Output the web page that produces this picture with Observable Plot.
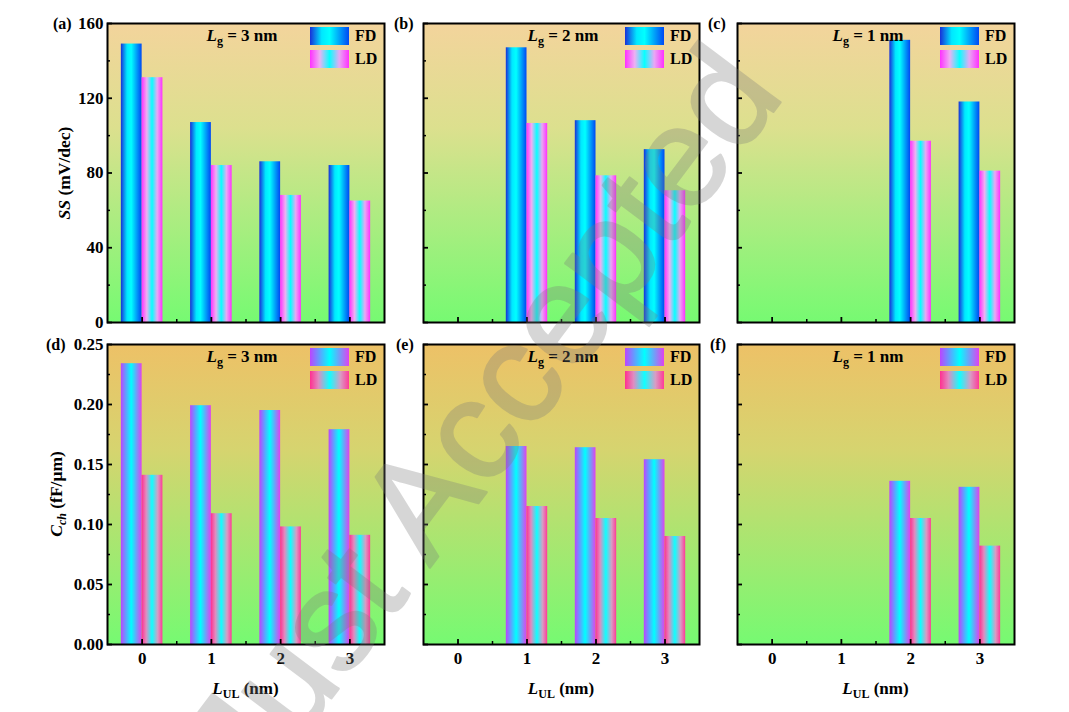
<!DOCTYPE html>
<html>
<head>
<meta charset="utf-8">
<script src="https://cdn.jsdelivr.net/npm/d3@7"></script>
<script src="https://cdn.jsdelivr.net/npm/@observablehq/plot@0.6"></script>
<style>
  html, body { margin: 0; padding: 0; background: #fff; }
  body { width: 1069px; height: 712px; overflow: hidden; position: relative;
         font-family: "Liberation Serif", "Times New Roman", serif; font-weight: bold; color: #000; }
  .abs { position: absolute; white-space: nowrap; line-height: 1; }
  .c { transform: translate(-50%, -50%); }
  .lbl { font-size: 16px; transform: translateY(-50%); }
  .lg { font-size: 17px; }
  .lg sub, .xt sub { font-size: 12px; vertical-align: -4px; line-height: 0; }
  .yt { font-size: 17.5px; transform: translate(-50%, -50%) rotate(-90deg); }
  .yt sub { font-size: 12px; vertical-align: -4px; line-height: 0; }
  .xt { font-size: 17px; }
  .sw { position: absolute; width: 39px; height: 18px; }
  .lt { font-size: 16px; transform: translateY(-50%); }
  svg.plot { position: absolute; }
  #wm { position: absolute; left: 0; top: 0; pointer-events: none; }
</style>
</head>
<body>
<svg id="defs" width="0" height="0" style="position:absolute;left:0;top:0"><defs></defs></svg>
<script>
// ---------------- data ----------------
const L_UL = [0, 1, 2, 3];
const xTickLabels = ["0", "1", "2", "3"];
const xMinorTicks = [0.5, 1.5, 2.5];

const ssTicks = [0, 40, 80, 120, 160];
const ssTickLabels = ["0", "40", "80", "120", "160"];
const ssMinorTicks = [20, 60, 100, 140];

const cchTicks = [0, 0.05, 0.10, 0.15, 0.20, 0.25];
const cchTickLabels = ["0.00", "0.05", "0.10", "0.15", "0.20", "0.25"];
const cchMinorTicks = [0.025, 0.075, 0.125, 0.175, 0.225];

// SS (mV/dec)
const ssFD_Lg3 = [149, 107, 86, 84];
const ssLD_Lg3 = [131, 84, 68, 65];
const ssFD_Lg2 = [null, 147, 108, 92.5];
const ssLD_Lg2 = [null, 106.5, 78.5, 70.5];
const ssFD_Lg1 = [null, null, 151, 118];
const ssLD_Lg1 = [null, null, 97, 81];

// Cch (fF/um)
const cchFD_Lg3 = [0.234, 0.199, 0.195, 0.179];
const cchLD_Lg3 = [0.141, 0.109, 0.098, 0.091];
const cchFD_Lg2 = [null, 0.165, 0.164, 0.154];
const cchLD_Lg2 = [null, 0.115, 0.105, 0.090];
const cchFD_Lg1 = [null, null, 0.136, 0.131];
const cchLD_Lg1 = [null, null, 0.105, 0.082];

const seriesNames = ["FD", "LD"];
const panelLetters = ["(a)", "(b)", "(c)", "(d)", "(e)", "(f)"];
const gateLengths = ["3", "2", "1"];
const watermarkText = "Just Accepted";

// ---------------- styles ----------------
const gradients = {
  bgTop: { vertical: true, stops: [[0, "#f3d49c"], [0.35, "#dce08e"], [1, "#76fa72"]] },
  bgBot: { vertical: true, stops: [[0, "#edc167"], [0.35, "#d6d46f"], [1, "#76fa72"]] },
  fdTop: { stops: [[0, "#1830d8"], [0.3, "#00e8ff"], [0.5, "#00ffff"], [1, "#0048f4"]] },
  ldTop: { stops: [[0, "#ff30ff"], [0.25, "#eeb0f2"], [0.5, "#08ffff"], [0.75, "#e8a8f4"], [1, "#ff30ff"]] },
  fdBot: { stops: [[0, "#bc44ff"], [0.5, "#00ffff"], [1, "#e040f0"]] },
  ldBot: { stops: [[0, "#ff3090"], [0.22, "#e08cc0"], [0.5, "#10ffff"], [0.78, "#d89cc4"], [1, "#ff3a98"]] }
};

const defs = d3.select("#defs defs");
for (const [id, g] of Object.entries(gradients)) {
  const lg = defs.append("linearGradient").attr("id", id)
    .attr("x1", 0).attr("y1", 0).attr("x2", g.vertical ? 0 : 1).attr("y2", g.vertical ? 1 : 0);
  for (const [o, c] of g.stops) lg.append("stop").attr("offset", o).attr("stop-color", c);
}
const cssGrad = id => `linear-gradient(to right, ${gradients[id].stops.map(([o, c]) => `${c} ${o * 100}%`).join(", ")})`;

// ---------------- layout ----------------
const colLeft = [107, 423, 737];
const colWidth = [277, 276, 277];
const rowTop = [23, 344];
const rowHeight = [299, 300];
const labelLeft = [[53, 394, 708], [46, 396, 710]];
const lgOffset = [135, 140, 131];
const ML = 60, MR = 6, MT = 6, MB = 44;
const BW = 0.3;
const FONT = "'Liberation Serif', 'Times New Roman', serif";

const panels = [
  { fd: ssFD_Lg3, ld: ssLD_Lg3 },
  { fd: ssFD_Lg2, ld: ssLD_Lg2 },
  { fd: ssFD_Lg1, ld: ssLD_Lg1 },
  { fd: cchFD_Lg3, ld: cchLD_Lg3 },
  { fd: cchFD_Lg2, ld: cchLD_Lg2 },
  { fd: cchFD_Lg1, ld: cchLD_Lg1 }
];

function addDiv(cls, html, left, top, extra) {
  const d = document.createElement("div");
  d.className = "abs " + cls;
  d.innerHTML = html;
  d.style.left = left + "px";
  d.style.top = top + "px";
  if (extra) Object.assign(d.style, extra);
  document.body.appendChild(d);
  return d;
}

panels.forEach((p, i) => {
  const row = Math.floor(i / 3), col = i % 3;
  const fw = colWidth[col], fh = rowHeight[row];
  const top = row === 0;
  const ticks = top ? ssTicks : cchTicks;
  const tickLabels = top ? ssTickLabels : cchTickLabels;
  const minor = top ? ssMinorTicks : cchMinorTicks;
  const yMax = ticks[ticks.length - 1];
  const xMin = -0.5, xMax = 3.5;
  const pxX = (xMax - xMin) / fw, pxY = yMax / fh;

  const fdRows = L_UL.map((L, k) => ({ L, v: p.fd[k] })).filter(d => d.v != null);
  const ldRows = L_UL.map((L, k) => ({ L, v: p.ld[k] })).filter(d => d.v != null);
  const fdFill = top ? "url(#fdTop)" : "url(#fdBot)";
  const ldFill = top ? "url(#ldTop)" : "url(#ldBot)";

  const marks = [
    Plot.frame({ fill: top ? "url(#bgTop)" : "url(#bgBot)", stroke: "none" }),
    Plot.rectY(fdRows, { x1: d => d.L - BW, x2: "L", y1: 0, y2: "v", fill: fdFill }),
    Plot.rectY(ldRows, { x1: "L", x2: d => d.L + BW, y1: 0, y2: "v", fill: ldFill }),
    Plot.ruleY(ticks, { x1: xMin, x2: xMin + 5 * pxX, stroke: "black", strokeWidth: 1.8 }),
    Plot.ruleY(minor, { x1: xMin, x2: xMin + 3 * pxX, stroke: "black", strokeWidth: 1.5 }),
    Plot.ruleX(L_UL, { y1: 0, y2: 5 * pxY, stroke: "black", strokeWidth: 1.8 }),
    Plot.ruleX(xMinorTicks, { y1: 0, y2: 3 * pxY, stroke: "black", strokeWidth: 1.5 }),
    Plot.frame({ stroke: "black", strokeWidth: 2 })
  ];
  if (col === 0) {
    marks.push(Plot.axisY(ticks, { tickSize: 0, tickPadding: 4, label: null,
      tickFormat: (d) => tickLabels[ticks.indexOf(d)], fontSize: 17 }));
  }
  if (!top) {
    marks.push(Plot.axisX(L_UL, { tickSize: 0, tickPadding: 7, label: null,
      tickFormat: (d) => xTickLabels[L_UL.indexOf(d)], fontSize: 17 }));
  }

  const svg = Plot.plot({
    width: fw + ML + MR, height: fh + MT + MB,
    marginLeft: ML, marginRight: MR, marginTop: MT, marginBottom: MB,
    x: { domain: [xMin, xMax], axis: null },
    y: { domain: [0, yMax], axis: null },
    style: { fontFamily: FONT, fontWeight: "bold", fontSize: "17px", background: "none", overflow: "visible", color: "black" },
    marks
  });
  svg.classList.add("plot");
  svg.style.left = (colLeft[col] - ML) + "px";
  svg.style.top = (rowTop[row] - MT) + "px";
  document.body.appendChild(svg);

  const fl = colLeft[col], ft = rowTop[row], fr = fl + fw, fb = ft + fh;

  addDiv("lbl", panelLetters[i], labelLeft[row][col], ft + 1);
  addDiv("lg c", `<i>L</i><sub>g</sub> = ${gateLengths[col]} nm`, fl + lgOffset[col], ft + 12);
  addDiv("sw", "", fr - 74, ft + 4, { background: cssGrad(top ? "fdTop" : "fdBot") });
  addDiv("sw", "", fr - 74, ft + 27, { background: cssGrad(top ? "ldTop" : "ldBot") });
  addDiv("lt", seriesNames[0], fr - 29, ft + 13);
  addDiv("lt", seriesNames[1], fr - 29, ft + 36);
  if (!top) addDiv("xt c", `<i>L</i><sub>UL</sub> (nm)`, (fl + fr) / 2, 688);
  if (col === 0) {
    if (top) addDiv("yt", `<i>SS</i> (mV/dec)`, 65, (ft + fb) / 2);
    else addDiv("yt", `<i>C<sub>ch</sub></i> (fF/μm)`, 57, (ft + fb) / 2);
  }
});

// watermark overlay (partly outside the figure, as in the reference)
const wm = d3.select("body").append("svg").attr("id", "wm").attr("width", 1069).attr("height", 712);
const wmG = wm.append("g").attr("opacity", 0.3);
wmG.append("text")
  .attr("x", 254).attr("y", 801)
  .attr("transform", "rotate(-53 254 801)")
  .attr("font-family", "'Liberation Sans', Arial, sans-serif")
  .attr("font-weight", "normal")
  .attr("font-size", 142)
  .attr("fill", "#7a7a7a")
  .attr("stroke", "#7a7a7a")
  .attr("stroke-width", 2.5)
  .attr("stroke-linejoin", "round")
  .text(watermarkText);
</script>
</body>
</html>
